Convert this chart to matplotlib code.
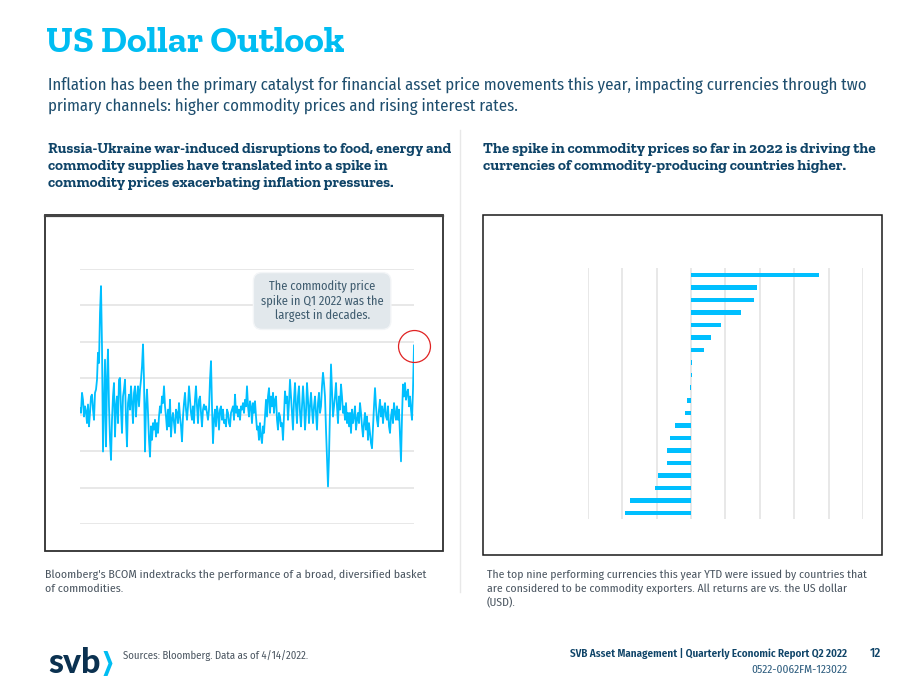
import matplotlib
matplotlib.use("Agg")
import matplotlib.pyplot as plt
from matplotlib.patches import Rectangle, Polygon

# BCOM index, periodic % change (gridline step = 1)
bcom_change = [
    0.18, 0.05, 0.60, 0.41, -0.05, 0.23, 0.09, -0.23, 0.28, -0.32,
    0.05, 0.50, 0.55, 0.14, -0.14, 0.60, 0.69, 0.96, 1.70, 1.42,
    2.80, 3.53, 1.88, -1.01, 0.23, 1.51, -0.87, 0.96, 1.79, 0.23,
    -0.69, -1.24, -0.14, 0.50, 0.87, -0.60, 0.23, 0.50, -0.23, 0.96,
    1.01, 0.14, -0.50, 0.50, 0.69, 0.96, -0.14, -0.87, 0.32, 0.55,
    0.14, 0.78, 0.32, -0.23, 0.60, 0.78, -0.05, 0.50, 0.78, 0.23,
    0.69, 0.96, 1.33, 1.93, 0.96, -1.01, 0.23, 0.69, 0.05, -0.69,
    -1.15, -0.32, -0.69, -0.23, -0.41, -0.14, -0.60, -0.23, -0.50, -0.05,
    0.23, 0.05, 0.50, 0.32, 0.78, 0.23, -0.05, -0.41, 0.14, -0.32,
    0.41, -0.60, -0.14, 0.05, -0.23, -0.50, 0.14, 0.05, -0.23, 0.32,
    -0.05, -0.32, -0.73, -0.05, 0.32, 0.60, 0.14, -0.14, 0.23, 0.78,
    0.41, 0.05, -0.14, 0.23, -0.23, 0.41, 0.78, 0.23, -0.23, 0.41,
    0.50, 0.05, -0.32, 0.14, 0.28, 0.14, 0.23, 0.05, -0.14, 0.14,
    0.96, 1.47, 0.23, -0.78, -0.14, 0.14, -0.32, 0.23, 0.05, -0.41,
    0.14, 0.23, -0.14, 0.14, -0.23, -0.14, -0.32, 0.14, 0.05, -0.23,
    -0.32, 0.05, 0.14, 0.23, -0.14, 0.55, 0.05, 0.23, -0.05, 0.14,
    -0.14, 0.23, 0.14, 0.32, 0.05, 0.41, 0.23, 0.78, 0.23, -0.05,
    0.37, 0.23, -0.23, 0.32, 0.05, 0.37, -0.05, -0.41, -0.32, -0.69,
    -0.23, -0.60, -0.78, -0.32, -0.50, -0.05, 0.41, -0.05, 0.50, 0.73,
    0.05, 0.50, 0.23, 0.60, 0.05, 0.41, 0.50, -0.14, -0.41, 0.05,
    -0.05, -0.32, -0.23, -0.69, -0.05, 0.64, 0.32, 0.50, -0.14, 0.32,
    0.96, 0.50, 0.05, -0.41, 0.41, 0.87, 0.23, -0.23, 0.50, 0.78,
    0.05, -0.32, 0.23, 0.78, 0.32, -0.41, 0.05, 0.87, 0.41, -0.23,
    0.23, 0.60, 0.14, -0.23, 0.23, 0.50, 0.05, -0.41, 0.32, 0.60,
    0.05, 0.23, 0.78, 1.15, 0.87, 0.50, -0.41, -1.15, -1.97, -1.15,
    0.05, 1.38, 0.69, -0.05, 0.23, 0.50, 0.87, 0.23, -0.23, 0.50,
    0.14, 0.83, 0.50, 0.05, 0.23, -0.14, 0.32, -0.23, 0.05, -0.32,
    0.05, -0.50, 0.14, -0.23, -0.05, 0.23, -0.41, -0.14, 0.05, -0.23,
    0.32, 0.05, -0.32, -0.60, -0.23, 0.05, -0.41, -0.05, -0.69, -0.23,
    -0.50, -0.78, -0.92, -0.32, 0.23, 0.73, 0.23, -0.14, -0.32, 0.14,
    0.41, -0.05, 0.23, -0.23, 0.14, 0.32, -0.05, -0.14, 0.23, -0.32,
    -0.50, -0.05, 0.14, -0.23, 0.32, 0.05, -0.14, 0.23, -0.14, 0.14,
    -0.60, -1.28, -0.05, 0.83, 0.50, 0.87, 0.41, 0.60, 0.69, 0.23,
    0.50, 0.14, -0.14, 0.69, 1.90,
]

# YTD currency returns vs USD, %, sorted high to low
ytd_returns = [37.2, 19.2, 18.2, 14.4, 8.7, 5.8, 3.8, 0.4, 0.4, -0.4,
               -1.3, -1.7, -4.8, -6.2, -6.9, -6.9, -9.7, -10.6, -17.9, -19.1]

intro = ["Inflation has been the primary catalyst for financial asset price movements "
         "this year, impacting currencies through two",
         "primary channels: higher commodity prices and rising interest rates."]
left_head = ["Russia-Ukraine war-induced disruptions to food, energy and",
             "commodity supplies have translated into a spike in",
             "commodity prices exacerbating inflation pressures."]
right_head = ["The spike in commodity prices so far in 2022 is driving the",
              "currencies of commodity-producing countries higher."]
left_note = ["Bloomberg's BCOM indextracks the performance of a broad, diversified basket",
             "of commodities."]
right_note = ["The top nine performing currencies this year YTD were issued by countries that",
              "are considered to be commodity exporters. All returns are vs. the US dollar",
              "(USD)."]

W, H = 920, 690
CYAN = "#00BDF2"
NAVY = "#0F4468"
BODY = "#1E4E6E"
GREY_TXT = "#4A5560"
GRID = "#E4E4E4"

SLAB = ["Zilla Slab", "Roboto Slab", "Bitter", "DejaVu Serif"]
COND = ["Fira Sans Condensed", "IBM Plex Sans Condensed", "Roboto Condensed", "DejaVu Sans"]


def px_axes(fig, x0, y0, x1, y1):
    """Axes placed by pixel box (top-left origin)."""
    return fig.add_axes([x0 / W, 1 - y1 / H, (x1 - x0) / W, (y1 - y0) / H])


def text_lines(ax, x, y, step, lines, **kw):
    for i, line in enumerate(lines):
        ax.text(x, y + i * step, line, va="baseline", **kw)


fig = plt.figure(figsize=(W / 100, H / 100), dpi=100)

# page layer in pixel coordinates
bg = fig.add_axes([0, 0, 1, 1], zorder=0)
bg.set_xlim(0, W)
bg.set_ylim(H, 0)
bg.axis("off")

bg.text(46, 52, "US Dollar Outlook", family=SLAB, weight="bold", fontsize=27,
        color=CYAN, va="baseline")
text_lines(bg, 48, 90, 21, intro, family=COND, fontsize=12.05, color=BODY)
text_lines(bg, 48, 153, 17, left_head, family=SLAB, weight="bold", fontsize=10.9,
           color=NAVY)
text_lines(bg, 483, 153, 17, right_head, family=SLAB, weight="bold", fontsize=11,
           color=NAVY)

bg.plot([460, 460], [130, 592], color="#E8E8E8", lw=1)

# chart frames
bg.add_patch(Rectangle((45, 215), 398, 336, fill=False, ec="#2E2E2E", lw=1.3))
bg.plot([45, 443], [215.5, 215.5], color="#444444", lw=1.6)
bg.add_patch(Rectangle((483, 215), 399, 340, fill=False, ec="#1A1A1A", lw=1.1))

text_lines(bg, 45, 578, 14, left_note, family=COND, fontsize=8.5, color=GREY_TXT)
text_lines(bg, 487, 578, 14, right_note, family=COND, fontsize=8.4, color=GREY_TXT)

# footer
bg.text(48, 673, "svb", family=["Lato", "DejaVu Sans"], weight="black", fontsize=24.5,
        color="#0B3150", va="baseline")
bg.add_patch(Polygon([(103.5, 651), (107.5, 651), (112.5, 663.5), (107.5, 676),
                      (103.5, 676), (108.5, 663.5)], closed=True, fc=CYAN, ec="none"))
bg.text(123, 659, "Sources: Bloomberg. Data as of 4/14/2022.", family=COND, fontsize=7.7,
        color=GREY_TXT, va="baseline")
bg.text(847, 657, "SVB Asset Management | Quarterly Economic Report Q2 2022", family=COND,
        weight="semibold", fontsize=7.95, color=NAVY, va="baseline", ha="right")
bg.text(881, 657, "12", family=COND, weight="medium", fontsize=9.4, color=NAVY,
        va="baseline", ha="right")
bg.text(847, 673, "0522-0062FM-123022", family=COND, fontsize=8.2, color="#2A5A7C",
        va="baseline", ha="right")

# left chart: BCOM line
ax1 = px_axes(fig, 80, 269, 414, 524)
x = range(len(bcom_change))
ax1.plot(x, bcom_change, color="#00BFFF", lw=1.3, zorder=3)
ax1.set_xlim(0, len(bcom_change) - 1)
ax1.set_ylim(-3, 4)
ax1.set_yticks(range(-3, 5))
ax1.set_xticks([])
ax1.grid(axis="y", color=GRID, lw=1.2)
ax1.tick_params(left=False, labelleft=False)
for s in ax1.spines.values():
    s.set_visible(False)
ax1.patch.set_alpha(0)
ax1.plot(len(bcom_change) - 1, bcom_change[-1], "o", ms=23, mfc="none", mec="#E02222",
         mew=0.9, clip_on=False, zorder=4)
ax1.text(0.725, 0.875, "The commodity price\nspike in Q1 2022 was the\nlargest in decades.",
         transform=ax1.transAxes, ha="center", va="center", family=COND, fontsize=8.9,
         color="#3E5B6E", linespacing=1.2, zorder=5,
         bbox=dict(boxstyle="round,pad=0.6,rounding_size=0.7", fc="#E2E8EC",
                   ec="#F3F5F7", lw=1))

# right chart: currency returns
ax2 = px_axes(fig, 588, 268, 863, 519)
pos = range(len(ytd_returns))
ax2.barh(pos, ytd_returns, height=0.36, color="#00BFFF", zorder=3)
ax2.set_xlim(-30, 50)
ax2.set_ylim(len(ytd_returns) - 0.52, -0.56)
ax2.set_xticks(range(-30, 51, 10))
ax2.set_yticks([])
ax2.grid(axis="x", color=GRID, lw=1.2)
ax2.tick_params(bottom=False, labelbottom=False)
for s in ax2.spines.values():
    s.set_visible(False)
ax2.patch.set_alpha(0)

fig.savefig("out.png", dpi=100)
